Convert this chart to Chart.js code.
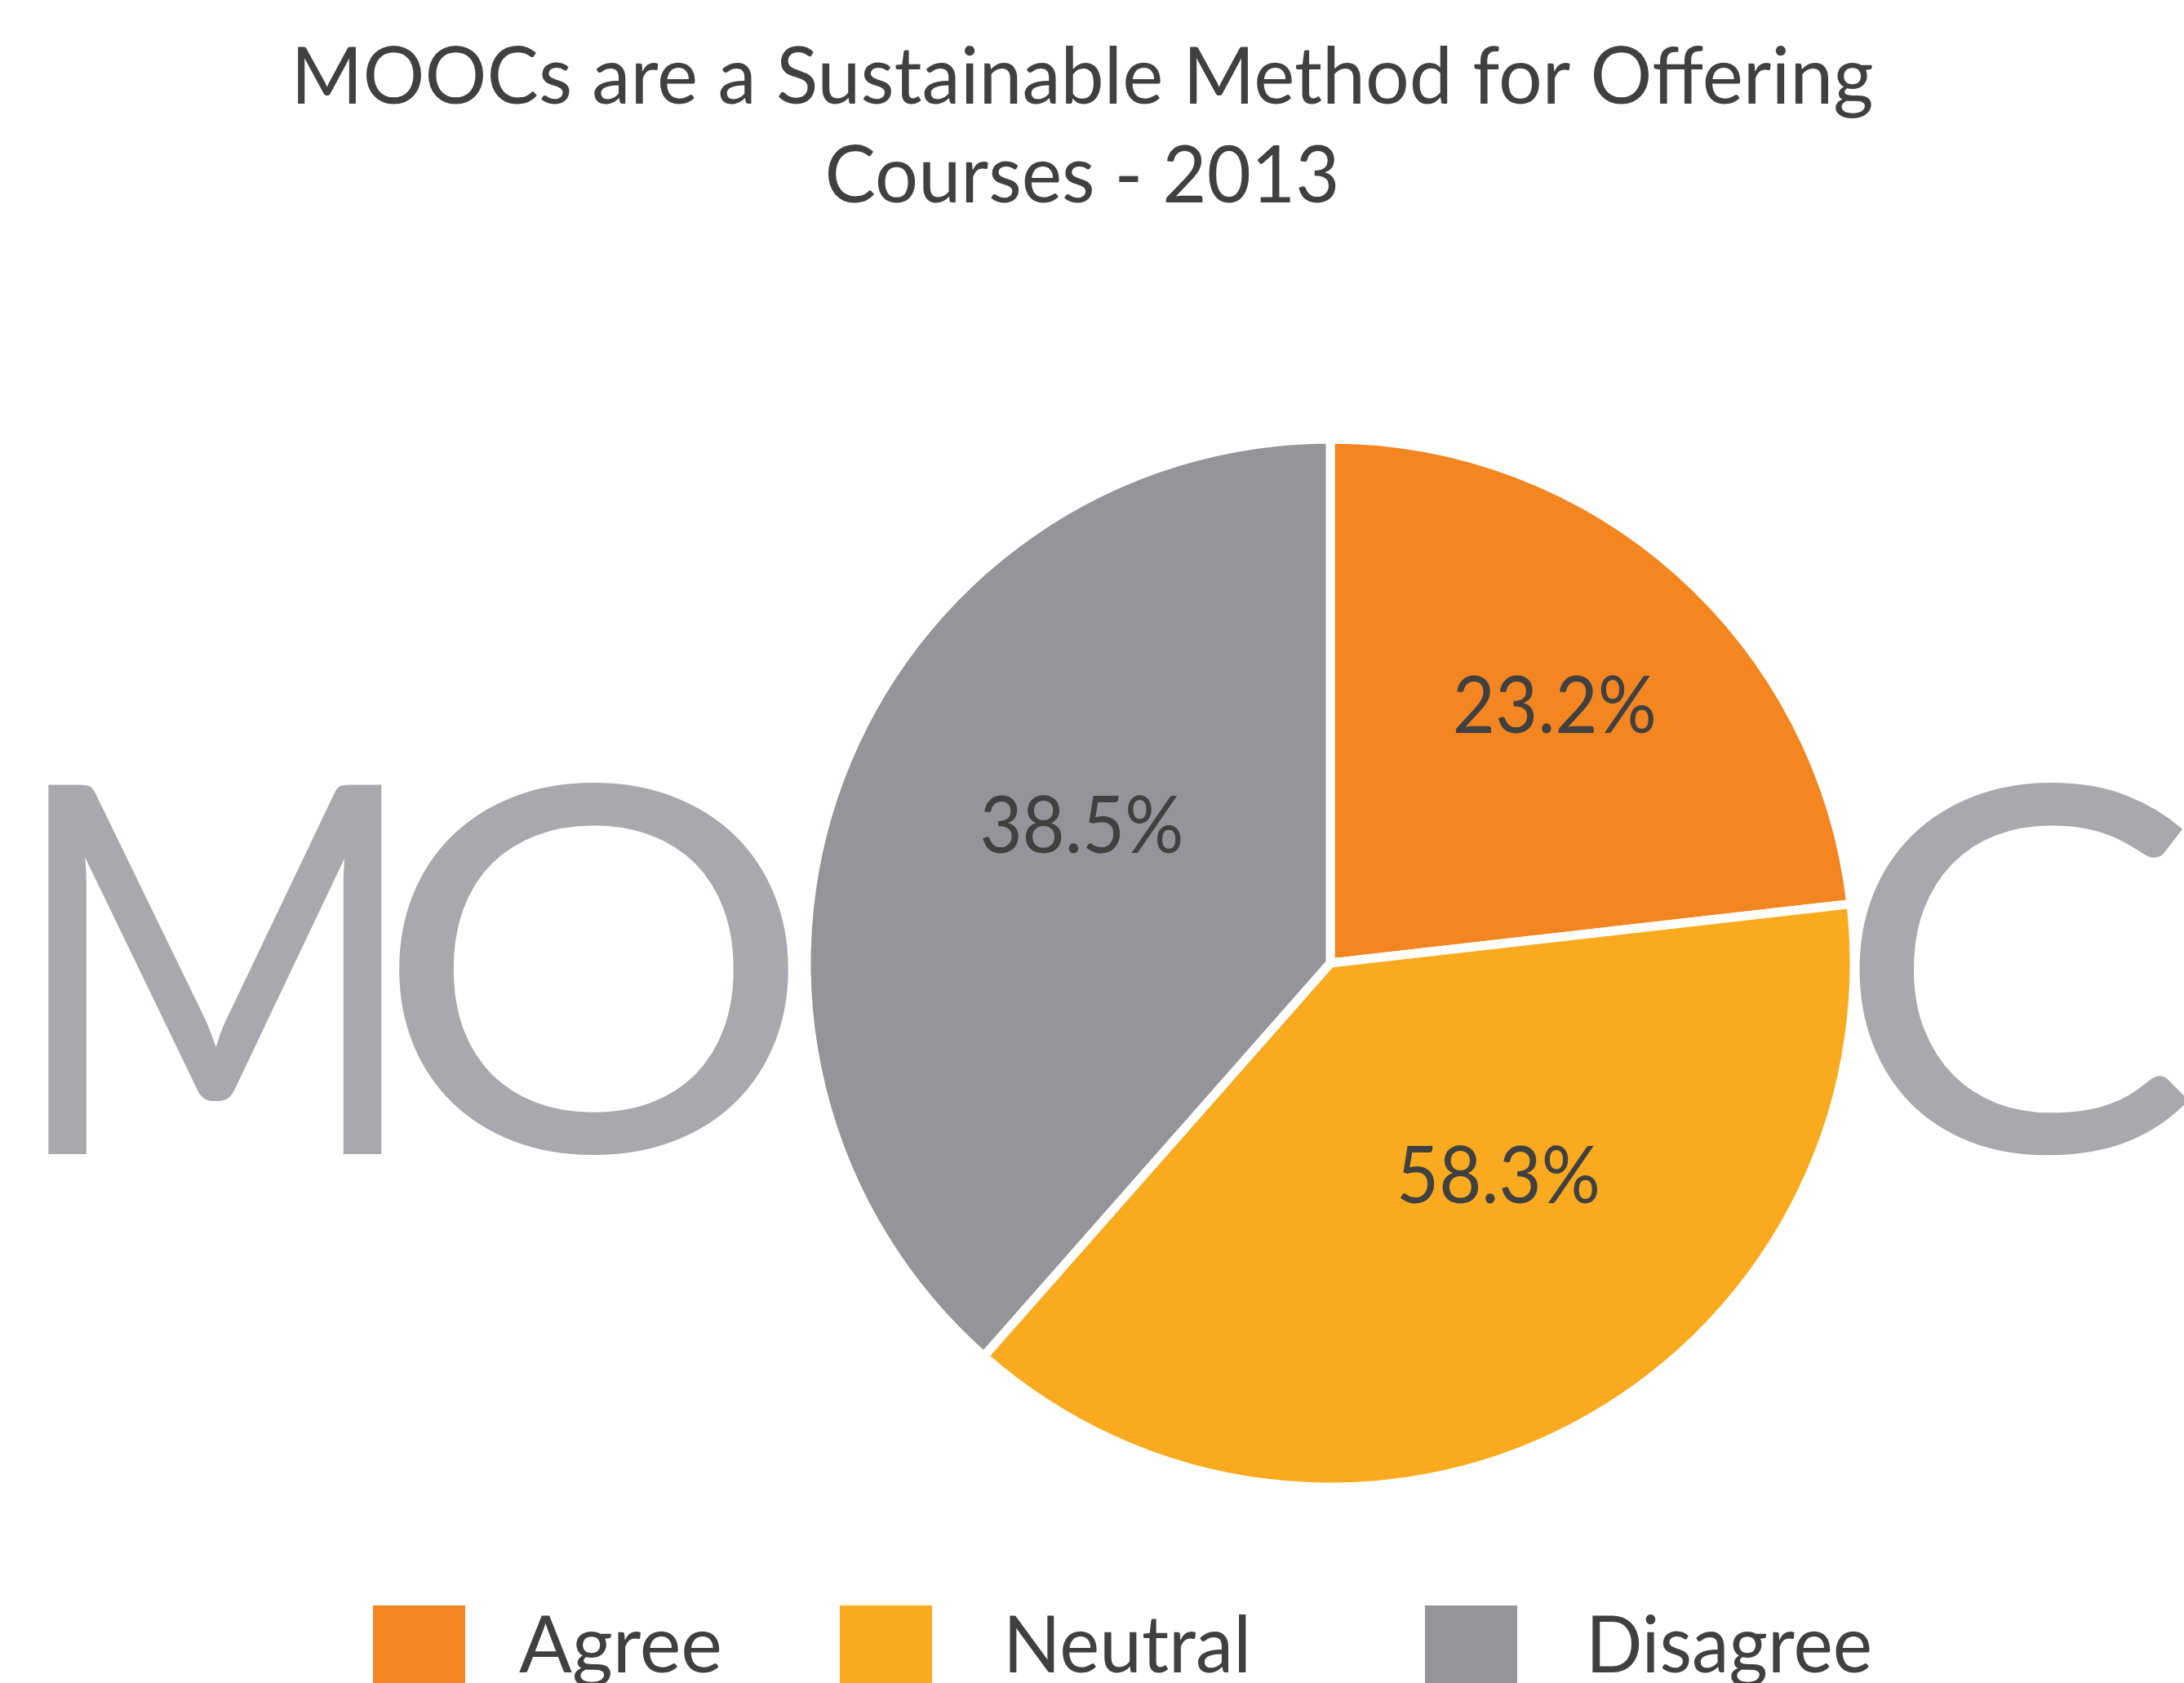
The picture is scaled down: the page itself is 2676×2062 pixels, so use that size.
<!DOCTYPE html>
<html>
<head>
<meta charset="utf-8">
<script src="https://cdn.jsdelivr.net/npm/chart.js@4.4.0/dist/chart.umd.min.js"></script>
<style>
html,body{margin:0;padding:0;background:#fff;overflow:hidden}
#wrap{position:relative;width:2676px;height:2062px}
</style>
</head>
<body>
<div id="wrap"><canvas id="pie"></canvas></div>
<script>
// ===== DATA =====
const CATEGORIES=['Agree','Neutral','Disagree'];
const SHARES=[23.2,38.3,38.5];              // slice sizes as drawn
const PRINTED=['23.2%','58.3%','38.5%'];    // labels as printed (the Neutral one reads 58.3%)
const TITLE_LINES=['MOOCs are a Sustainable Method for Offering','Courses - 2013'];
const BG_WORD=['M','O','C'];                // the big "MOOC" behind the pie, 2nd O hidden

// ===== STYLE =====
const COLORS=['#F48621','#F9AA1E','#939598'];
const LETTER_COL='#A7A9AC';
const TEXT_COL='#404041';
const FONT='Lato';
// label placement: angle nudge (deg) from slice middle, fraction of radius
const LABEL_NUDGE=[-0.8,-10.9,8.4];
const LABEL_RF=[0.653,0.516,0.543];
// background glyph boxes [x0,x1,top,bottom], x1 null = keep aspect
const BG_BOX=[[52,471,960,1414],[489,974,953,1420],[2278,null,953,1420]];
const TITLE_X=1326,TITLE_BASE=[127,248],TITLE_MAXW=[1939,631];
const LEG_BOX_X=[457,1029,1746],LEG_TEXT_X=[636,1229,1943],LEG_TEXT_W=[249,304,351],LEG_TOP=1967,LEG_BOX=113,LEG_BASE=2049;

function fitGlyph(c,ch,[x0,x1,top,bottom]){
  const m=c.measureText(ch);
  const w=m.actualBoundingBoxLeft+m.actualBoundingBoxRight;
  const h=m.actualBoundingBoxAscent+m.actualBoundingBoxDescent;
  const sy=(bottom-top)/h,sx=x1==null?sy*1.08:(x1-x0)/w;
  c.save();c.translate(x0,top);c.scale(sx,sy);
  c.fillText(ch,m.actualBoundingBoxLeft,m.actualBoundingBoxAscent);
  c.restore();
}

const decor={
  id:'decor',
  beforeDatasetsDraw(chart){
    const c=chart.ctx;c.save();
    c.fillStyle=LETTER_COL;c.font=`400 640px ${FONT}`;c.textAlign='left';c.textBaseline='alphabetic';
    BG_WORD.forEach((ch,i)=>fitGlyph(c,ch,BG_BOX[i]));
    c.restore();
  },
  afterDraw(chart){
    const c=chart.ctx;c.save();
    c.fillStyle=TEXT_COL;c.font=`96px ${FONT}`;c.textBaseline='alphabetic';
    // title
    c.textAlign='center';
    TITLE_LINES.forEach((t,i)=>c.fillText(t,TITLE_X,TITLE_BASE[i],TITLE_MAXW[i]));
    // value labels, placed off each arc's geometry
    const cap=96*0.7165;
    chart.getDatasetMeta(0).data.forEach((arc,i)=>{
      const p=arc.getProps(['x','y','startAngle','endAngle','outerRadius'],true);
      const a=(p.startAngle+p.endAngle)/2+LABEL_NUDGE[i]*Math.PI/180;
      const r=p.outerRadius*LABEL_RF[i];
      c.fillText(PRINTED[i],p.x+Math.cos(a)*r,p.y+Math.sin(a)*r+cap/2,250);
    });
    // legend
    c.textAlign='left';
    chart.data.labels.forEach((lab,i)=>{
      c.fillStyle=chart.data.datasets[0].backgroundColor[i];
      c.fillRect(LEG_BOX_X[i],LEG_TOP,LEG_BOX,LEG_BOX);
      c.fillStyle=TEXT_COL;
      c.fillText(lab,LEG_TEXT_X[i],LEG_BASE,LEG_TEXT_W[i]);
    });
    c.restore();
  }
};

function build(){
  new Chart(document.getElementById('pie'),{
    type:'pie',
    data:{labels:CATEGORIES,datasets:[{data:SHARES,backgroundColor:COLORS,borderColor:'#fff',borderWidth:11,radius:642}]},
    options:{
      responsive:true,maintainAspectRatio:false,animation:false,devicePixelRatio:1,
      layout:{padding:{left:584,right:0,top:298,bottom:0}},
      plugins:{legend:{display:false},title:{display:false},tooltip:{enabled:false}}
    },
    plugins:[decor]
  });
}
(document.fonts&&document.fonts.load?Promise.all([document.fonts.load(`96px ${FONT}`),document.fonts.load(`400 640px ${FONT}`)]):Promise.resolve()).then(build,build);
</script>
</body>
</html>
